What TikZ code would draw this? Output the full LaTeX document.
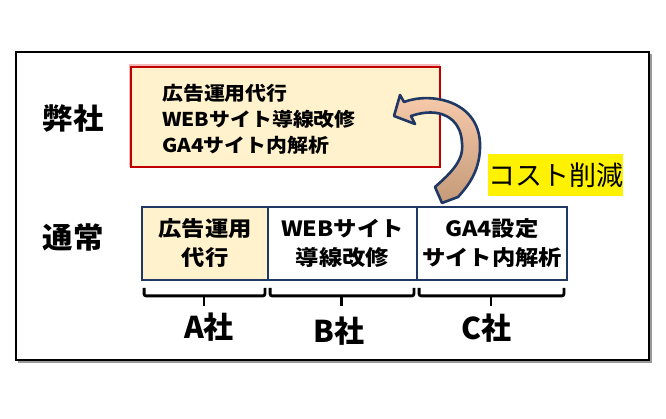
\documentclass[tikz,border=0pt]{standalone}
\usepackage{fontspec}
\setmainfont{Noto Sans CJK JP}
\usepackage{graphicx}
\usetikzlibrary{calc}
\definecolor{navy}{HTML}{203864}
\definecolor{cream}{HTML}{FFF2CC}
\definecolor{darkred}{HTML}{C00000}
\definecolor{pinkglow}{HTML}{F2B8B8}
\definecolor{arrowtop}{HTML}{F8CBAD}
\definecolor{arrowbot}{HTML}{C49A78}
\newcommand{\wx}[2]{\scalebox{#1}[1]{#2}}
\begin{document}
\begin{tikzpicture}[x=1pt,y=-1pt,
  side/.style={font=\fontsize{29}{29}\selectfont\bfseries, inner sep=0},
  boxline/.style={anchor=west, font=\fontsize{19}{19}\selectfont\bfseries, inner sep=0},
  cell/.style={draw=navy, line width=1.8pt, minimum height=73pt, inner sep=0, align=center, font=\fontsize{21}{29}\selectfont\bfseries},
  brace/.style={line width=2.8pt, rounded corners=2pt},
  firm/.style={font=\fontsize{30}{30}\selectfont\bfseries, inner sep=0}]
\useasboundingbox (0,0) rectangle (666,419);
% outer frame with shadow
\draw[black!40, line width=2pt] (18,362) -- (651,362) -- (651,54);
\draw[line width=2pt] (16,52) rectangle (649,360);
% our company box
\draw[pinkglow, line width=2pt] (130,167) -- (130,65.5) -- (440,65.5);
\node[draw=darkred, line width=1.8pt, fill=cream, minimum width=309pt, minimum height=100pt, inner sep=0] (own) at (285.5,117) {};
\node[boxline] (t1) at (162,93) {\wx{1.1}{広告運用代行}};
\node[boxline] (t2) at (162,119) {\wx{1.1}{WEBサイト導線改修}};
\node[boxline] (t3) at (162,145) {\wx{1.1}{GA4サイト内解析}};
% side labels
\node[side] (ours) at (73,118) {\wx{1.05}{弊社}};
\node[side] (usual) at (73,237.5) {\wx{1.05}{通常}};
% bottom cells
\node[cell, fill=cream, minimum width=126pt] (b1) at (205,243.5) {\wx{1.11}{広告運用}\\\wx{1.11}{代行}};
\node[cell, fill=white, minimum width=149pt] (b2) at (342.5,243.5) {\wx{1.11}{WEBサイト}\\\wx{1.11}{導線改修}};
\node[cell, fill=white, minimum width=150pt] (b3) at (492,243.5) {\wx{1.11}{GA4設定}\\\wx{1.11}{サイト内解析}};
% braces
\foreach \b in {b1,b2,b3}{
  \draw[brace] ($(\b.south west)+(3,7)$) -- ($(\b.south west)+(3,15)$) -- ($(\b.south east)+(-4,15)$) -- ($(\b.south east)+(-4,7)$);
  \draw[line width=2.8pt] ($(\b.south)+(-1,15)$) -- ($(\b.south)+(-1,25)$);
}
% firm labels
\node[firm] (fa) at (209,327) {A社};
\node[firm] (fb) at (339,331) {B社};
\node[firm] (fc) at (486,328) {C社};
% curved arrow
\draw[navy, line width=2.6pt, line join=round, top color=arrowtop, bottom color=arrowbot]
  (404,102) .. controls (430,92) and (478,100) .. (480,143)
  .. controls (481,170) and (468,186) .. (458,197)
  -- (442,203) -- (435,187)
  .. controls (452,172) and (464,160) .. (462,143)
  .. controls (461,118) and (440,106) .. (411,116)
  -- (415,124) -- (394,116) -- (400,95) -- cycle;
% cost reduction label
\node[fill=yellow, minimum width=133pt, minimum height=42pt, inner sep=0, font=\fontsize{27}{27}\selectfont] (cost) at (555.5,175) {コスト削減};
\end{tikzpicture}
\end{document}
